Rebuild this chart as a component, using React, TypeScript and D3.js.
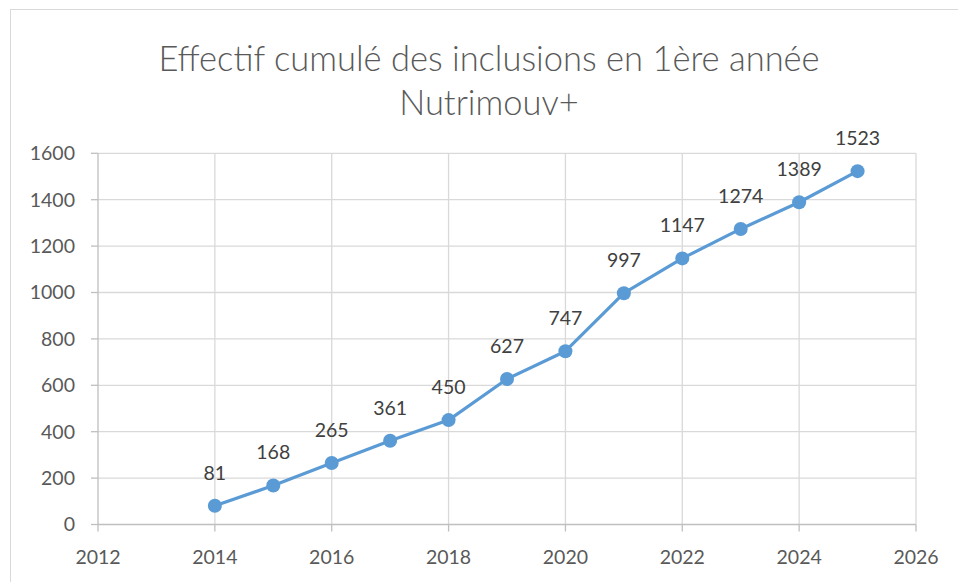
import React from 'react';
import * as d3 from 'd3';

const years = [2014, 2015, 2016, 2017, 2018, 2019, 2020, 2021, 2022, 2023, 2024, 2025];
const cumul = [81, 168, 265, 361, 450, 627, 747, 997, 1147, 1274, 1389, 1523];
const xTicks = [2012, 2014, 2016, 2018, 2020, 2022, 2024, 2026];
const yTicks = [0, 200, 400, 600, 800, 1000, 1200, 1400, 1600];
const titleLines = ['Effectif cumulé des inclusions en 1ère année', 'Nutrimouv+'];

const W = 958;
const H = 582;
const font = 'Lato, "Open Sans", sans-serif';

export default function App() {
  const x = d3.scaleLinear().domain([2012, 2026]).range([98, 916]);
  const y = d3.scaleLinear().domain([0, 1600]).range([524.5, 153.3]);
  const line = d3.line<number>()
    .x((d, i) => x(years[i]))
    .y((d) => y(d));

  return (
    <svg width={W} height={H} style={{ position: 'absolute', left: 0, top: 0, background: '#fff' }}>
      <rect x={10.5} y={9.5} width={W} height={H} fill="#fff" stroke="#d9d9d9" strokeWidth={1} />
      {titleLines.map((t, i) => (
        <text key={t} x={489} y={71 + i * 44} textAnchor="middle" fontFamily={font} fontWeight={300} fontSize={34.5} fill="#595959">
          {t}
        </text>
      ))}
      {/* grid */}
      {yTicks.slice(1).map((v) => (
        <line key={'h' + v} x1={x(2012)} x2={x(2026)} y1={y(v)} y2={y(v)} stroke="#d9d9d9" strokeWidth={1.3} />
      ))}
      {xTicks.slice(1).map((v) => (
        <line key={'v' + v} x1={x(v)} x2={x(v)} y1={y(1600)} y2={y(0)} stroke="#d9d9d9" strokeWidth={1.3} />
      ))}
      {/* axes */}
      <line x1={x(2012)} x2={x(2012)} y1={y(1600)} y2={y(0)} stroke="#bfbfbf" strokeWidth={1.3} />
      <line x1={x(2012)} x2={x(2026)} y1={y(0)} y2={y(0)} stroke="#bfbfbf" strokeWidth={1.3} />
      {yTicks.map((v) => (
        <g key={'yt' + v}>
          <line x1={x(2012) - 7} x2={x(2012)} y1={y(v)} y2={y(v)} stroke="#bfbfbf" strokeWidth={1.3} />
          <text x={75} y={y(v)} dy="0.35em" textAnchor="end" fontFamily={font} fontSize={19.5} fill="#595959">
            {v}
          </text>
        </g>
      ))}
      {xTicks.map((v) => (
        <g key={'xt' + v}>
          <line x1={x(v)} x2={x(v)} y1={y(0)} y2={y(0) + 7} stroke="#bfbfbf" strokeWidth={1.3} />
          <text x={x(v)} y={y(0) + 33} dy="0.35em" textAnchor="middle" fontFamily={font} fontSize={19.5} fill="#595959">
            {v}
          </text>
        </g>
      ))}
      <path d={line(cumul) || ''} fill="none" stroke="#5b9bd5" strokeWidth={3.2} strokeLinejoin="round" />
      {cumul.map((v, i) => (
        <g key={'p' + i}>
          <circle cx={x(years[i])} cy={y(v)} r={7} fill="#5b9bd5" />
          <text x={x(years[i])} y={y(v) - 33} dy="0.35em" textAnchor="middle" fontFamily={font} fontSize={19.5} fill="#404040">
            {v}
          </text>
        </g>
      ))}
    </svg>
  );
}
